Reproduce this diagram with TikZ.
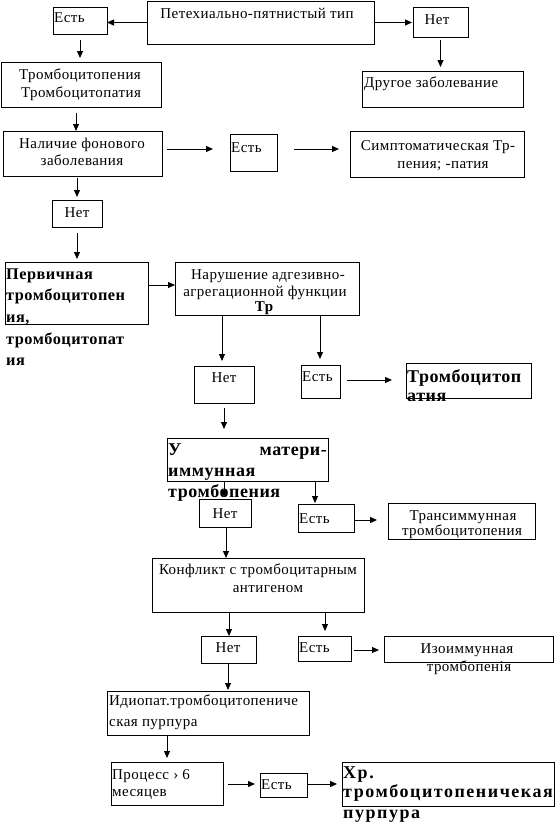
\documentclass[tikz,border=0pt]{standalone}
\usepackage{fontspec}
\setmainfont{Liberation Serif}
\newfontfamily\rf{Liberation Serif}[LetterSpace=3]
\newfontfamily\rfw{Liberation Serif}[LetterSpace=8.5]
\usetikzlibrary{arrows.meta}
\tikzset{
 box/.style={draw, line width=1pt, inner sep=0pt, outer sep=0pt},
 arr/.style={line width=1pt, -{Triangle[length=7pt,width=6pt]}},
 tr/.style={inner sep=0pt, font=\rf\fontsize{15}{18}\selectfont},
 tb/.style={inner sep=0pt, font=\rf\bfseries\fontsize{18}{22}\selectfont},
 tbp/.style={inner sep=0pt, font=\rf\bfseries\fontsize{16.3}{22}\selectfont},
 tbh/.style={inner sep=0pt, font=\rfw\bfseries\fontsize{18}{22}\selectfont},
 tbs/.style={inner sep=0pt, font=\rf\bfseries\fontsize{15}{18}\selectfont},
}
\newcommand\bx[5]{\node[box, minimum width={(#4-#2)*1pt}, minimum height={(#5-#3)*1pt}] (#1) at ({(#2+#4)/2},{(#3+#5)/2}) {};}
\newcommand\tl[5][tr]{\node[#1, anchor=base west] (#2) at (#3,#4) {#5};}
\newcommand\tc[5][tr]{\node[#1, anchor=base] (#2) at (#3,#4) {#5};}
\begin{document}
\begin{tikzpicture}[x=1pt,y=-1pt]
\useasboundingbox (0,0) rectangle (555,827);
\fill[white] (0,0) rectangle (555,827);
% boxes
\bx{top}{147}{1}{374}{44}
\bx{est1}{53}{7}{107}{34}
\bx{net1}{413}{7}{468}{37}
\bx{trombo}{1}{62}{161}{107}
\bx{drugoe}{362}{71}{523}{107}
\bx{nalichie}{3}{131}{162}{176}
\bx{est2}{230}{134}{277}{171}
\bx{simpt}{350}{131}{524}{177}
\bx{net2}{52}{200}{102}{227}
\bx{perv}{5}{262}{148}{324}
\bx{narush}{175}{262}{359}{315}
\bx{net3}{194}{366}{254}{403}
\bx{est3}{301}{365}{340}{398}
\bx{trombop}{406}{363}{531}{398}
\bx{umateri}{167}{438}{328}{481}
\bx{net4}{199}{499}{251}{527}
\bx{est4}{298}{504}{354}{532}
\bx{transimm}{388}{503}{535}{539}
\bx{konflikt}{152}{558}{364}{612}
\bx{net5}{201}{636}{256}{663}
\bx{est5}{298}{636}{351}{661}
\bx{izoimm}{384}{636}{553}{662}
\bx{idiopat}{107}{691}{309}{735}
\bx{process}{111}{762}{223}{805}
\bx{est6}{260}{773}{307}{797}
\bx{hr}{342}{762}{554}{806}
% regular texts
\tc{t1}{257}{18}{Петехиально-пятнистый тип}
\tl{t2}{54}{23}{Есть}
\tc{t3}{437}{24}{Нет}
\tc{t4}{80}{79}{Тромбоцитопения}
\tc{t5}{81}{97}{Тромбоцитопатия}
\tl{t6}{364}{87}{Другое заболевание}
\tc{t7}{82}{148}{Наличие фонового}
\tc{t8}{82}{165}{заболевания}
\tl{t9}{231}{152}{Есть}
\tc{t10}{438}{150}{Симптоматическая Тр-}
\tc{t11}{443}{168}{пения; -патия}
\tc{t12}{77}{217}{Нет}
\tc{t13}{268}{279}{Нарушение адгезивно-}
\tc{t14}{265}{296}{агрегационной функции}
\tc[tbs]{t15}{264}{311}{Тр}
\tc{t16}{224}{382}{Нет}
\tl{t17}{302}{381}{Есть}
\tc{t18}{225}{518}{Нет}
\tl{t19}{299}{523}{Есть}
\tc{t20}{463}{520}{Трансиммунная}
\tc{t21}{462}{535}{тромбоцитопения}
\tc{t22}{258}{574}{Конфликт с тромбоцитарным}
\tc{t23}{268}{592}{антигеном}
\tc{t24}{228}{652}{Нет}
\tl{t25}{299}{652}{Есть}
\tc{t26}{467}{653}{Изоиммунная}
\tc{t27}{469}{671}{тромбопенія}
\tl{t28}{109}{705}{Идиопат.тромбоцитопениче}
\tl{t29}{109}{726}{ская пурпура}
\tl{t30}{112}{779}{Процесс › 6}
\tl{t31}{112}{796}{месяцев}
\tl{t32}{261}{789}{Есть}
% bold texts
\tl[tbp]{b1}{6}{279}{Первичная}
\tl[tbp]{b2}{6}{300.7}{тромбоцитопен}
\tl[tbp]{b3}{6}{322.4}{ия,}
\tl[tbp]{b4}{6}{344.1}{тромбоцитопат}
\tl[tbp]{b5}{6}{365.8}{ия}
\tl[tb]{b6}{407}{382}{Тромбоцитоп}
\tl[tb]{b7}{407}{401}{атия}
\tl[tb]{b8}{168}{455}{У}
\node[tb, anchor=base east] (b9) at (327,455) {матери-};
\tl[tb]{b10}{168}{476}{иммунная}
\tl[tb]{b11}{168}{497}{тромбопения}
\tl[tbh]{b12}{343}{778}{Хр.}
\tl[tbh]{b13}{343}{797}{тромбоцитопеничекая}
\tl[tbh]{b14}{343}{818}{пурпура}
% arrows
\draw[arr] (top.west) -- (top.west -| est1.east);
\draw[arr, shorten >=1pt] (top.east) -- (top.east -| net1.west);
\draw[arr, shorten <=6pt, shorten >=4pt] (est1.south) -- (est1.south |- trombo.north);
\draw[arr, shorten <=3pt, shorten >=4pt] (net1.south) -- (net1.south |- drugoe.north);
\draw[arr, shorten <=6pt] ([xshift=-5pt]trombo.south) -- ([xshift=-5pt]trombo.south |- nalichie.north);
\draw[arr, shorten <=5pt, shorten >=17pt] ([yshift=4.5pt]nalichie.east) -- ([yshift=4.5pt]nalichie.east -| est2.west);
\draw[arr, shorten <=17pt, shorten >=11pt] ([yshift=3.5pt]est2.east) -- ([yshift=3.5pt]est2.east -| simpt.west);
\draw[arr, shorten <=2pt, shorten >=3pt] ([xshift=-5.5pt]nalichie.south) -- ([xshift=-5.5pt]nalichie.south |- net2.north);
\draw[arr, shorten <=6pt, shorten >=3pt] (net2.south) -- (net2.south |- perv.north);
\draw[arr] ([yshift=8pt]perv.east) -- ([yshift=8pt]perv.east -| narush.west);
\draw[arr, shorten >=5pt] ([xshift=-45pt]narush.south) -- ([xshift=-45pt]narush.south |- net3.north);
\draw[arr, shorten >=6pt] ([xshift=53pt]narush.south) -- ([xshift=53pt]narush.south |- est3.north);
\draw[arr, shorten <=7pt, shorten >=14pt] ([yshift=1.5pt]est3.east) -- ([yshift=1.5pt]est3.east -| trombop.west);
\draw[arr, shorten <=5pt, shorten >=9pt] (net3.south) -- (net3.south |- umateri.north);
\draw[arr, shorten >=2pt] ([xshift=-23.5pt]umateri.south) -- ([xshift=-23.5pt]umateri.south |- net4.north);
\draw[arr, shorten >=1pt] ([xshift=67.5pt]umateri.south) -- ([xshift=67.5pt]umateri.south |- est4.north);
\draw[arr, shorten >=11pt] ([yshift=-2pt]est4.east) -- ([yshift=-2pt]est4.east -| transimm.west);
\draw[arr] ([xshift=1pt]net4.south) -- ([xshift=1pt]net4.south |- konflikt.north);
\draw[arr] ([xshift=-29pt]konflikt.south) -- ([xshift=-29pt]konflikt.south |- net5.north);
\draw[arr, shorten >=5pt] ([xshift=67pt]konflikt.south) -- ([xshift=67pt]konflikt.south |- est5.north);
\draw[arr, shorten <=3pt, shorten >=5pt] ([yshift=-1.5pt]est5.east) -- ([yshift=-1.5pt]est5.east -| izoimm.west);
\draw[arr, shorten >=1pt] ([xshift=-0.5pt]net5.south) -- ([xshift=-0.5pt]net5.south |- idiopat.north);
\draw[arr, shorten >=4pt] ([xshift=-41pt]idiopat.south) -- ([xshift=-41pt]idiopat.south |- process.north);
\draw[arr, shorten <=5pt, shorten >=5pt] ([yshift=-0.5pt]process.east) -- ([yshift=-0.5pt]process.east -| est6.west);
\draw[arr, shorten <=1pt, shorten >=5pt] ([yshift=1pt]est6.east) -- ([yshift=1pt]est6.east -| hr.west);
\end{tikzpicture}
\end{document}
